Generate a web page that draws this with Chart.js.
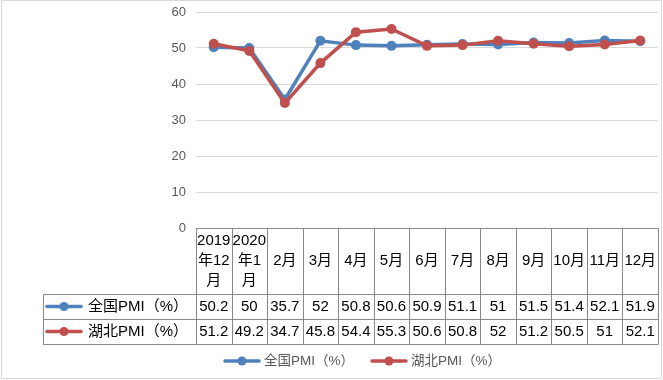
<!DOCTYPE html>
<html>
<head>
<meta charset="utf-8">
<script src="https://cdn.jsdelivr.net/npm/chart.js@4/dist/chart.umd.min.js"></script>
<style>
html,body{margin:0;padding:0;background:#fff;}
#wrap{width:663px;height:380px;position:relative;}
</style>
</head>
<body>
<div id="wrap"><canvas id="c" width="663" height="380"></canvas></div>
<script>
const categories = [["2019","年12","月"],["2020","年1","月"],["2月"],["3月"],["4月"],["5月"],["6月"],["7月"],["8月"],["9月"],["10月"],["11月"],["12月"]];
const seriesNames = ["全国PMI（%）","湖北PMI（%）"];
const nationalPMI = [50.2,50,35.7,52,50.8,50.6,50.9,51.1,51,51.5,51.4,52.1,51.9];
const hubeiPMI = [51.2,49.2,34.7,45.8,54.4,55.3,50.6,50.8,52,51.2,50.5,51,52.1];
const yTicks = [0,10,20,30,40,50,60];
const colors = ["#4F81BD","#C0504D"];

const FONT = '"Liberation Sans","Noto Sans CJK SC",sans-serif';

function drawKey(ctx, x1, x2, y, color){
  ctx.save();
  ctx.strokeStyle = color; ctx.lineWidth = 3.5; ctx.lineCap = 'round';
  ctx.beginPath(); ctx.moveTo(x1,y); ctx.lineTo(x2,y); ctx.stroke();
  ctx.fillStyle = color;
  ctx.beginPath(); ctx.arc((x1+x2)/2, y, 4.5, 0, Math.PI*2); ctx.fill();
  ctx.restore();
}

const tablePlugin = {
  id:'tablePlugin',
  afterDraw(chart){
    const ctx = chart.ctx;
    const xs = chart.scales.x;
    const area = chart.chartArea;
    const n = categories.length;
    const colW = (area.right - area.left)/n;
    const top = area.bottom, hdrBot = 294, r1Bot = 319, r2Bot = 344, labL = 43;
    ctx.save();
    ctx.strokeStyle = '#D9D9D9'; ctx.lineWidth = 1;
    ctx.strokeRect(1.5, 0.5, 660, 378);
    ctx.strokeStyle = '#898989'; ctx.lineWidth = 1;
    ctx.beginPath();
    ctx.moveTo(area.left, top+0.5); ctx.lineTo(area.right, top+0.5);
    [hdrBot, r1Bot, r2Bot].forEach(y=>{ ctx.moveTo(labL, y+0.5); ctx.lineTo(area.right, y+0.5); });
    for(let i=0;i<=n;i++){
      const x = Math.round(area.left + i*colW)+0.5;
      ctx.moveTo(x, top); ctx.lineTo(x, r2Bot+0.5);
    }
    ctx.moveTo(labL+0.5, hdrBot); ctx.lineTo(labL+0.5, r2Bot+0.5);
    ctx.stroke();
    ctx.fillStyle = '#000'; ctx.font = '15px '+FONT;
    ctx.textAlign = 'center'; ctx.textBaseline = 'middle';
    categories.forEach((lab,i)=>{
      const cx = xs.getPixelForValue(i);
      const lh = 19.7;
      const cy = (top+hdrBot)/2;
      lab.forEach((t,k)=>{
        ctx.fillText(t, cx, cy + (k-(lab.length-1)/2)*lh);
      });
      ctx.fillText(String(nationalPMI[i]), cx, (hdrBot+r1Bot)/2+0.5);
      ctx.fillText(String(hubeiPMI[i]), cx, (r1Bot+r2Bot)/2+0.5);
    });
    [(hdrBot+r1Bot)/2,(r1Bot+r2Bot)/2].forEach((y,k)=>{
      drawKey(ctx, 47, 81, y, colors[k]);
      ctx.fillStyle = '#000'; ctx.textAlign = 'left';
      ctx.fillText(seriesNames[k], 88, y+0.5);
    });
    ctx.font = '13.5px '+FONT; ctx.fillStyle = '#595959';
    const ly = 361;
    drawKey(ctx, 225, 259, ly, colors[0]);
    ctx.fillText(seriesNames[0], 264, ly);
    drawKey(ctx, 372, 406, ly, colors[1]);
    ctx.fillText(seriesNames[1], 411, ly);
    ctx.restore();
  }
};

new Chart(document.getElementById('c'), {
  type:'line',
  data:{
    labels: categories.map(c=>c.join('')),
    datasets:[
      {label:seriesNames[0], data:nationalPMI, borderColor:colors[0], backgroundColor:colors[0], borderWidth:3.5, pointRadius:5, pointBorderWidth:0, pointBackgroundColor:colors[0], tension:0, order:1},
      {label:seriesNames[1], data:hubeiPMI, borderColor:colors[1], backgroundColor:colors[1], borderWidth:3.5, pointRadius:5, pointBorderWidth:0, pointBackgroundColor:colors[1], tension:0, order:0}
    ]
  },
  options:{
    responsive:false, animation:false,
    layout:{padding:{left:0, top:12, right:4, bottom:152}},
    plugins:{legend:{display:false}, tooltip:{enabled:false}},
    scales:{
      x:{display:false, offset:true},
      y:{
        min:0, max:60,
        afterFit(s){ s.width = 196; s.paddingTop = 0; s.paddingBottom = 0; },
        afterBuildTicks(s){ s.ticks = yTicks.map(v=>({value:v})); },
        grid:{color:'#D9D9D9', drawTicks:false, lineWidth:1},
        border:{display:false},
        ticks:{padding:10, color:'#595959', font:{family:FONT, size:13}}
      }
    }
  },
  plugins:[tablePlugin]
});
</script>
</body>
</html>
